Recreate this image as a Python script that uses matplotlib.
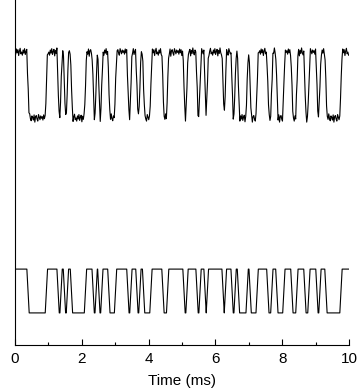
import numpy as np
import matplotlib
matplotlib.use("Agg")
from matplotlib import pyplot as plt

plt.rcParams['font.family'] = ['Liberation Sans', 'DejaVu Sans']

# transition times (ms) of the pulse train, level starts high
edges_ms = [0.39, 0.94, 1.29, 1.38, 1.48, 1.57, 1.69, 2.11, 2.34, 2.43,
            2.51, 2.60, 2.81, 3.01, 3.38, 3.47, 3.65, 3.74, 3.85, 4.07,
            4.43, 4.57, 5.06, 5.15, 5.45, 5.54, 5.69, 5.76, 6.23, 6.30,
            6.50, 6.59, 6.69, 6.95, 7.04, 7.25, 7.57, 7.69, 7.84, 8.05,
            8.29, 8.44, 8.68, 8.80, 9.04, 9.13, 9.31, 9.76]
t_end = 10.0

# levels (arbitrary units)
top_high, top_low = 8.49, 6.58
bot_high, bot_low = 2.20, 0.93

ripple = [0.04, -0.06, 0.09, -0.02, 0.07, -0.10, 0.03, 0.11, -0.05, 0.00,
          -0.09, 0.06, -0.03, 0.10, -0.07, 0.02, 0.08, -0.11, 0.05, -0.04,
          0.12, -0.02, -0.08, 0.06, 0.01, -0.06, 0.09, -0.12, 0.04, 0.07,
          -0.03, -0.09, 0.10, 0.02, -0.05, 0.06, -0.01]

edge_w = 0.07


def square_wave(edges, hi, lo, end):
    xs = [0.0]
    ys = [hi]
    level = hi
    for t in edges:
        new = lo if level == hi else hi
        xs += [t - edge_w / 2, t + edge_w / 2]
        ys += [level, new]
        level = new
    xs.append(end)
    ys.append(level)
    return np.array(xs), np.array(ys)


xb, yb = square_wave(edges_ms, bot_high, bot_low, t_end)

# upper trace: same pattern sampled finely with ripple added
xt = np.arange(0.0, t_end, 0.022)
yt = np.interp(xt, *square_wave(edges_ms, top_high, top_low, t_end))
yt = yt + np.resize(ripple, len(xt))

fig = plt.figure(figsize=(3.6, 3.89), dpi=100)
ax = fig.add_axes([15 / 360, 44 / 389, 334 / 360, 345 / 389])

ax.plot(xt, yt, color='black', lw=0.8)
ax.plot(xb, yb, color='black', lw=0.8)

ax.set_xlim(0, 10)
ax.set_ylim(0, 10)
ax.set_xticks([0, 2, 4, 6, 8, 10])
ax.set_xticks([1, 3, 5, 7, 9], minor=True)
ax.set_yticks([])
ax.tick_params(axis='x', direction='in', length=4, width=0.8, labelsize=11, pad=5)
ax.tick_params(axis='x', which='minor', direction='in', length=2, width=0.8)
ax.spines['top'].set_visible(False)
ax.spines['right'].set_visible(False)
ax.spines['left'].set_linewidth(0.8)
ax.spines['bottom'].set_linewidth(0.8)
ax.set_xlabel('Time (ms)', fontsize=11, labelpad=6)

fig.savefig('out.png', dpi=100)
